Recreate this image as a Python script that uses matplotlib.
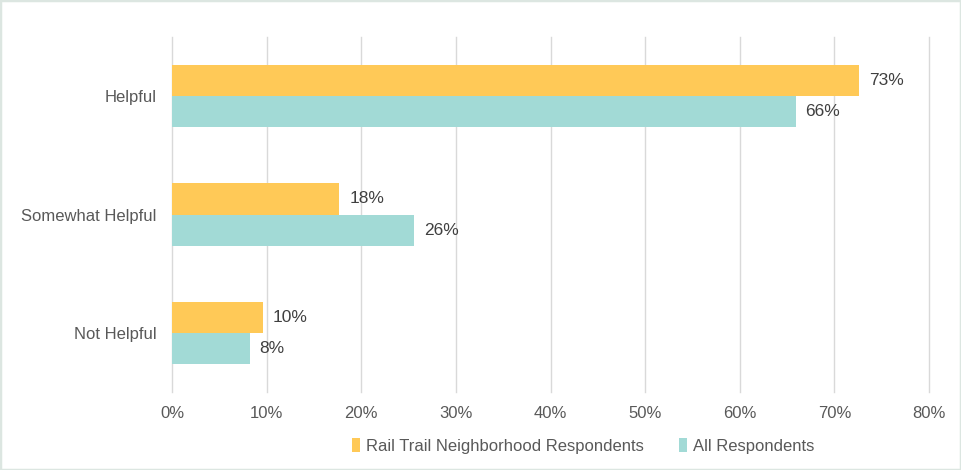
import numpy as np
import matplotlib.pyplot as plt
from matplotlib.patches import Rectangle

plt.rcParams['font.family'] = ['Liberation Sans', 'DejaVu Sans']

categories = ['Helpful', 'Somewhat Helpful', 'Not Helpful']
rail_trail = [72.6, 17.7, 9.6]
all_resp = [65.9, 25.6, 8.2]
series_names = ['Rail Trail Neighborhood Respondents', 'All Respondents']
xticks = [0, 10, 20, 30, 40, 50, 60, 70, 80]

c_rail = '#FFC957'
c_all = '#A2DAD6'
txt = '#595959'

f = plt.figure(figsize=(9.61, 4.70), dpi=100)
ax = f.add_axes([172/961, 1-392/470, (929-172)/961, (392-37)/470])

y = np.arange(len(categories))
h = 0.262
b1 = ax.barh(y - h/2, rail_trail, height=h, color=c_rail, label=series_names[0], zorder=2)
b2 = ax.barh(y + h/2, all_resp, height=h, color=c_all, label=series_names[1], zorder=2)

for bars, vals in [(b1, rail_trail), (b2, all_resp)]:
    for bar, v in zip(bars, vals):
        ax.annotate(f'{round(v):.0f}%', (v, bar.get_y() + bar.get_height()/2),
                    xytext=(7, 0), textcoords='offset points', va='center', ha='left',
                    fontsize=12.5, color='#404040')

ax.set_xlim(0, 80)
ax.set_ylim(2.5, -0.5)
ax.set_xticks(xticks)
ax.set_xticklabels([f'{t}%' for t in xticks])
ax.set_yticks(y)
ax.set_yticklabels(categories)
ax.tick_params(axis='both', length=0, labelsize=12, colors=txt)
ax.tick_params(axis='x', pad=10)
ax.tick_params(axis='y', pad=11)
ax.grid(axis='x', color='#D9D9D9', linewidth=1, zorder=0)
for gl in ax.get_xgridlines():
    gl.set_clip_on(False)
for s in ax.spines.values():
    s.set_visible(False)

f.legend(handles=[b1, b2], loc='center', bbox_to_anchor=(0.607, 0.051), ncol=2, frameon=False,
         fontsize=12, labelcolor=txt, handlelength=0.5, handleheight=0.9,
         handletextpad=0.35, columnspacing=2.1)

f.patches.append(Rectangle((0, 0), 1, 1, transform=f.transFigure, fill=False,
                           edgecolor='#DCE6E1', linewidth=2.5))

f.savefig('out.png', dpi=100)
